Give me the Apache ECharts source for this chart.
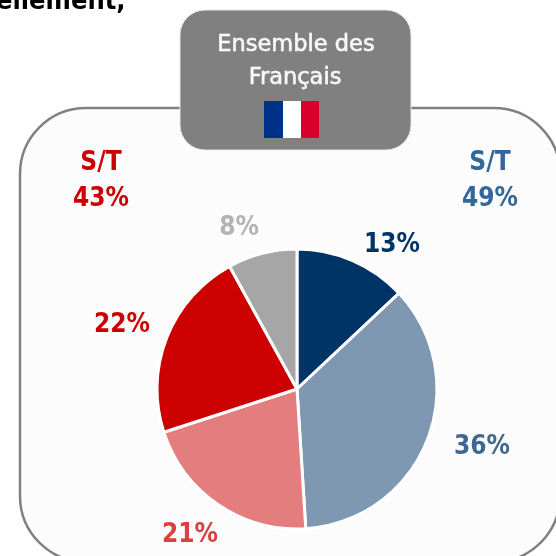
<!DOCTYPE html>
<html><head><meta charset="utf-8">
<style>html,body{margin:0;padding:0;background:#fff}#c{width:556px;height:556px}</style>
<script src="https://cdn.jsdelivr.net/npm/echarts@6/dist/echarts.min.js"></script>
</head><body><div id="c"></div>
<script>
const categories = ['Très favorable','Plutôt favorable','Plutôt défavorable','Très défavorable','Sans opinion'];
const values = [13,36,21,22,8];
const sliceColors = ['#003366','#7f98b2','#e47d7e','#cc0000','#a6a6a6'];
const labelColors = ['#003366','#3d6690','#d9403f','#cc0000','#b3b3b3'];
const labelCenters = [[392,245],[482,447],[190,535],[122,325],[239,228]];
const font = '"DejaVu Sans Condensed","DejaVu Sans",sans-serif';
const fontW = '"DejaVu Sans",sans-serif';
const chart = echarts.init(document.getElementById('c'),null,{renderer:'canvas'});
const txt=(x,y,t,c,s,w,f,extra)=>({type:'text',z:10,style:Object.assign({x,y,text:t,fill:c,font:`${w||'bold'} ${s}px ${f||font}`,textAlign:'center',textVerticalAlign:'middle'},extra||{})});
const headerInk={stroke:'#f8f8f8',lineWidth:0.6};
chart.setOption({
  animation:false,
  backgroundColor:'#ffffff',
  graphic:[
    {type:'rect',z:0,shape:{x:20,y:108,width:540,height:454,r:66},style:{fill:'#fcfcfc',stroke:'#808080',lineWidth:2.5}},
    {type:'rect',z:5,shape:{x:180,y:10,width:231,height:140,r:25},style:{fill:'#808080',stroke:'#e6e6e6',lineWidth:1}},
    {type:'rect',z:6,shape:{x:264,y:101,width:19,height:37},style:{fill:'#003189'}},
    {type:'rect',z:6,shape:{x:283,y:101,width:18,height:37},style:{fill:'#ffffff'}},
    {type:'rect',z:6,shape:{x:301,y:101,width:18,height:37},style:{fill:'#d8002c'}},
    txt(296,45,'Ensemble des','#f8f8f8',22.5,'normal',fontW,headerInk),
    txt(295,78,'Français','#f8f8f8',22.5,'normal',fontW,headerInk),
    txt(101,163,'S/T','#cc0000',26),
    txt(101,199,'43%','#cc0000',26),
    txt(490,163,'S/T','#336699',26),
    txt(490,199,'49%','#336699',26),
    {type:'text',z:10,style:{x:-4,y:15,text:'ellement,',fill:'#000000',font:`bold 27px ${font}`,textAlign:'left',textVerticalAlign:'bottom'}}
  ],
  series:[{
    type:'pie',
    center:[297,389],
    radius:[0,140],
    startAngle:90,
    clockwise:true,
    silent:true,
    itemStyle:{borderColor:'#ffffff',borderWidth:3},
    label:{show:true,formatter:'{c}%',fontFamily:font,fontWeight:'bold',fontSize:26},
    labelLine:{show:false},
    labelLayout:p=>({x:labelCenters[p.dataIndex][0],y:labelCenters[p.dataIndex][1],align:'center',verticalAlign:'middle'}),
    data:categories.map((name,i)=>({name,value:values[i],itemStyle:{color:sliceColors[i]},label:{color:labelColors[i]}}))
  }]
});
</script></body></html>
